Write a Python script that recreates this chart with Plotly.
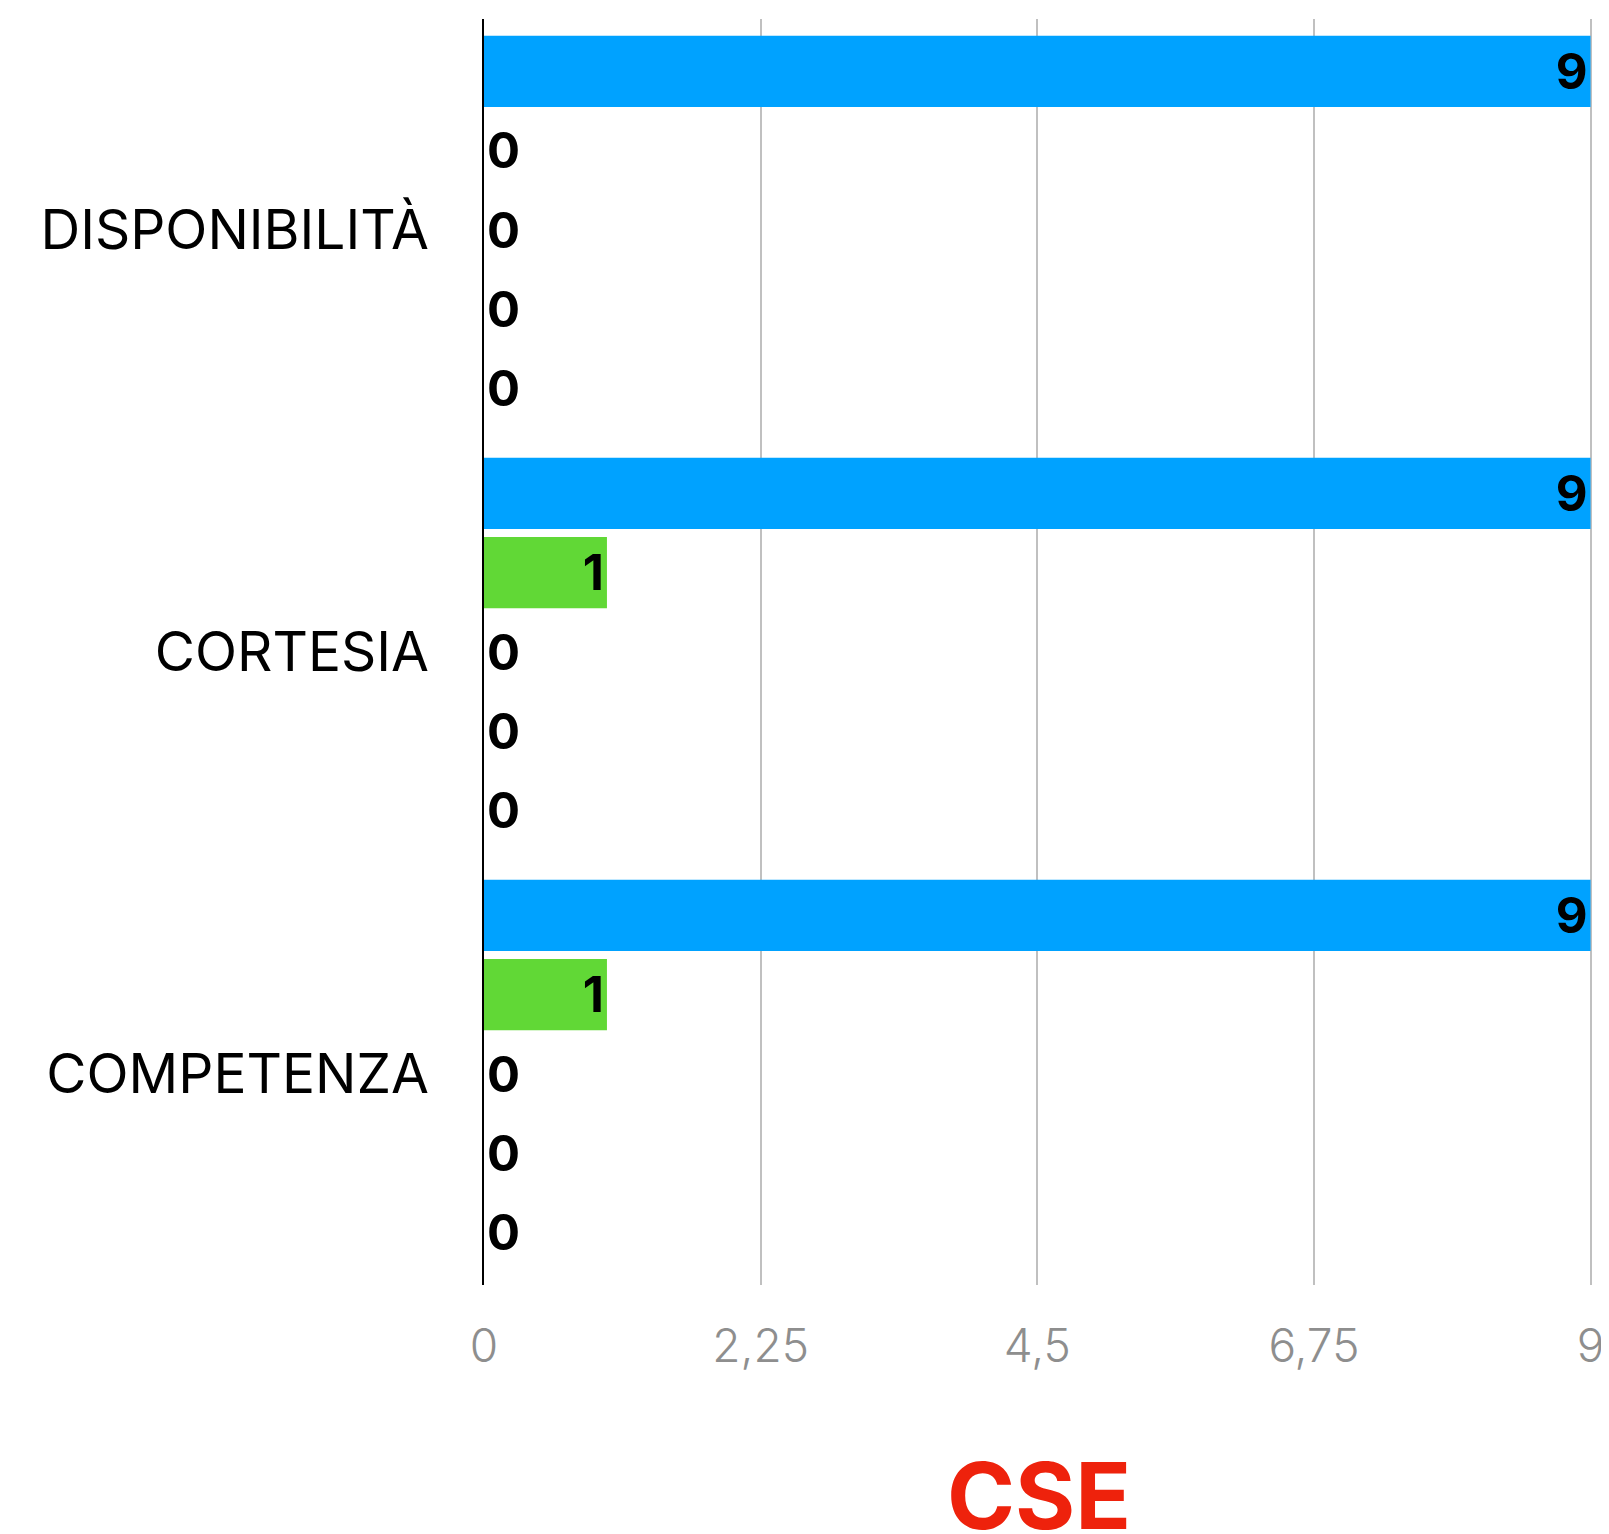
import plotly.graph_objects as go

categories = ["DISPONIBILITÀ", "CORTESIA", "COMPETENZA"]

series_names = ["Ottimo", "Buono", "Sufficiente", "Scarso", "Insufficiente"]
series_values = [
    [9, 9, 9],
    [0, 1, 1],
    [0, 0, 0],
    [0, 0, 0],
    [0, 0, 0],
]
series_colors = ["#00A2FF", "#61D836", "#FAE232", "#EE220C", "#B51700"]

tick_vals = [0, 2.25, 4.5, 6.75, 9]
tick_text = ["0", "2,25", "4,5", "6,75", "9"]
axis_title = "CSE"

fig = go.Figure()

for name, values, colour in zip(series_names, series_values, series_colors):
    fig.add_trace(
        go.Bar(
            y=categories,
            x=values,
            name=name,
            orientation="h",
            marker=dict(color=colour, line=dict(width=0)),
            text=[str(v) for v in values],
            # zero-length bars get their label just outside the axis
            textposition=["inside" if v > 0 else "outside" for v in values],
            insidetextanchor="end",
            textfont=dict(family="Inter", size=49, color="black", weight="bold"),
            cliponaxis=False,
            hoverinfo="skip",
        )
    )

# page body adds 8px around the figure
fig.update_layout(
    width=1601,
    height=1526,
    margin=dict(l=476, r=16, t=11, b=249, autoexpand=False),
    barmode="group",
    bargap=0.06,
    bargroupgap=0.1,
    showlegend=False,
    paper_bgcolor="white",
    plot_bgcolor="white",
    uniformtext=dict(minsize=49, mode="show"),
    xaxis=dict(
        range=[0, 9.02],
        automargin=False,
        tickvals=tick_vals,
        ticktext=tick_text,
        tickfont=dict(family="Inter", size=46, color="#8E8E8E", weight=300),
        ticklabelstandoff=30,
        ticklabeloverflow="allow",
        showgrid=True,
        gridcolor="#C0C0C0",
        gridwidth=2,
        zeroline=False,
        showline=False,
    ),
    yaxis=dict(
        autorange="reversed",
        automargin=False,
        tickfont=dict(family="Inter", size=55, color="black"),
        ticklabelstandoff=42,
        showline=True,
        linecolor="black",
        linewidth=2,
        showgrid=False,
    ),
    annotations=[
        dict(
            text="<b>" + axis_title + "</b>",
            xref="paper",
            yref="paper",
            x=0.5,
            y=-0.166,
            xanchor="center",
            yanchor="middle",
            showarrow=False,
            font=dict(family="Inter", size=92, color="#EE220C"),
        )
    ],
)

fig.write_html("out.html")
